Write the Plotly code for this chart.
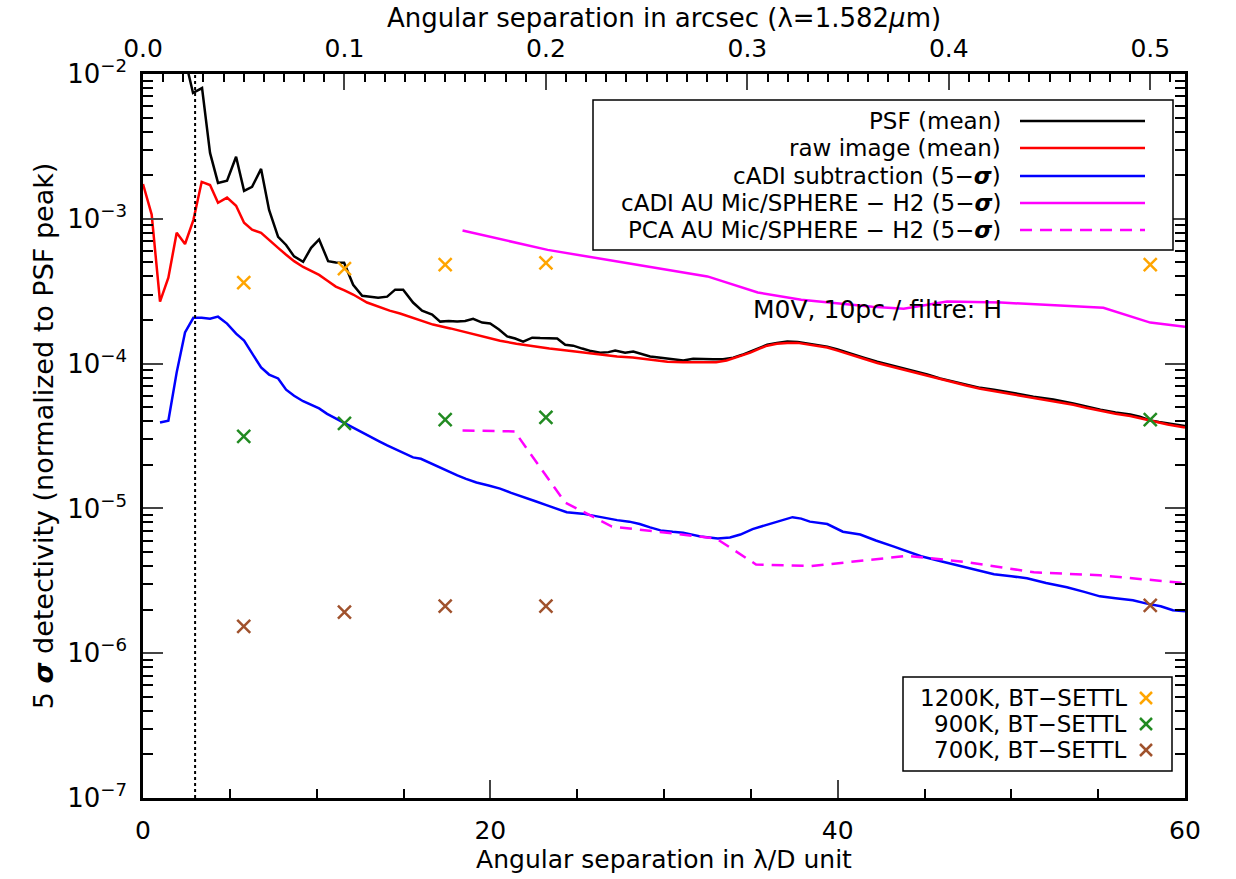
import plotly.graph_objects as go
import numpy as np

# ---------------- data ----------------
ARCSEC_PER_LD = 0.5 / 58.0   # top axis conversion (lambda = 1.582 micron)
IWA_LD = 3.0                 # dotted vertical line position

psf_x = [2.4, 2.88, 3.40, 3.86, 4.32, 4.84, 5.36, 5.82, 6.28, 6.80, 7.26, 7.78, 8.24, 8.70, 9.22, 9.68,
         10.14, 10.66, 11.1, 11.58, 12.10, 12.62, 13.08, 13.54, 14.06, 14.52, 14.98, 15.55, 16.07, 16.65,
         17.11, 17.6, 18.09, 18.55, 19.01, 19.53, 19.99, 20.5, 20.97, 21.43, 21.89, 22.41, 22.87, 23.33,
         23.85, 24.31, 24.77, 25.29, 25.8, 26.33, 26.8, 27.19, 27.76, 28.23, 28.7, 29.2, 29.7, 30.18, 30.6,
         31.11, 31.68, 32.2, 32.83, 33.4, 33.99, 34.5, 34.97, 35.5, 35.94, 36.5, 37.1, 37.7, 38.25, 38.8,
         39.4, 40.0, 40.73, 41.5, 42.28, 43.0, 43.61, 44.4, 45.16, 45.9, 46.66, 47.4, 48.21, 49.0, 49.77,
         50.5, 51.27, 52.42, 53.57, 54.3, 55.13, 56.0, 56.85, 57.4, 58.0, 58.5, 59.0, 60.0]
psf_y = [1.3e-2, 7.4e-3, 8.0e-3, 2.85e-3, 1.77e-3, 1.83e-3, 2.68e-3, 1.56e-3, 1.66e-3, 2.21e-3, 1.15e-3,
         7.5e-4, 6.6e-4, 5.5e-4, 5.05e-4, 6.3e-4, 7.2e-4, 5.1e-4, 5.0e-4, 4.97e-4, 3.5e-4, 2.94e-4, 2.9e-4,
         2.85e-4, 2.9e-4, 3.24e-4, 3.24e-4, 2.64e-4, 2.32e-4, 2.18e-4, 1.95e-4, 1.97e-4, 1.95e-4, 1.97e-4,
         2.04e-4, 1.92e-4, 1.89e-4, 1.72e-4, 1.54e-4, 1.49e-4, 1.42e-4, 1.51e-4, 1.50e-4, 1.49e-4, 1.49e-4,
         1.35e-4, 1.33e-4, 1.27e-4, 1.22e-4, 1.19e-4, 1.20e-4, 1.23e-4, 1.19e-4, 1.21e-4, 1.16e-4, 1.12e-4,
         1.10e-4, 1.08e-4, 1.06e-4, 1.05e-4, 1.08e-4, 1.07e-4, 1.07e-4, 1.07e-4, 1.10e-4, 1.15e-4, 1.21e-4,
         1.29e-4, 1.35e-4, 1.39e-4, 1.42e-4, 1.41e-4, 1.38e-4, 1.35e-4, 1.31e-4, 1.25e-4, 1.17e-4, 1.10e-4,
         1.03e-4, 9.8e-5, 9.4e-5, 8.9e-5, 8.4e-5, 7.9e-5, 7.5e-5, 7.2e-5, 6.8e-5, 6.6e-5, 6.4e-5, 6.15e-5,
         5.9e-5, 5.65e-5, 5.3e-5, 5.05e-5, 4.8e-5, 4.6e-5, 4.45e-5, 4.3e-5, 4.05e-5, 3.95e-5, 3.86e-5, 3.7e-5]

raw_x = [0.0, 0.5, 0.98, 1.46, 1.94, 2.42, 2.9, 3.38, 3.86, 4.32, 4.84, 5.36, 5.82, 6.28, 6.80, 7.26, 7.78,
         8.24, 8.7, 9.22, 9.68, 10.14, 10.6, 11.1, 11.6, 12.1, 12.9, 13.54, 14.2, 14.8, 15.5, 16.0, 16.7,
         17.7, 18.66, 19.6, 20.56, 21.5, 22.47, 23.4, 24.4, 25.4, 26.33, 27.3, 28.2, 29.2, 30.2, 31.1, 32.1,
         33.0, 33.6, 34.3, 34.97, 35.5, 35.94, 36.5, 37.1, 37.7, 38.25, 38.8, 39.4, 40.0, 40.73, 41.5, 42.28,
         43.0, 43.61, 44.4, 45.16, 45.9, 46.66, 47.4, 48.21, 49.0, 49.77, 50.5, 51.27, 52.42, 53.57, 54.3,
         55.13, 56.0, 56.85, 57.4, 58.0, 58.5, 59.0, 60.0]
raw_y = [1.74e-3, 1.07e-3, 2.68e-4, 3.92e-4, 8.0e-4, 6.7e-4, 9.8e-4, 1.8e-3, 1.71e-3, 1.29e-3, 1.40e-3,
         1.23e-3, 9.4e-4, 8.4e-4, 8.0e-4, 7.2e-4, 6.3e-4, 5.65e-4, 5.1e-4, 4.65e-4, 4.35e-4, 4.1e-4, 3.75e-4,
         3.4e-4, 3.2e-4, 3.0e-4, 2.64e-4, 2.47e-4, 2.32e-4, 2.22e-4, 2.08e-4, 2.0e-4, 1.86e-4, 1.75e-4,
         1.64e-4, 1.53e-4, 1.44e-4, 1.37e-4, 1.31e-4, 1.27e-4, 1.23e-4, 1.19e-4, 1.15e-4, 1.12e-4, 1.10e-4,
         1.06e-4, 1.03e-4, 1.02e-4, 1.02e-4, 1.02e-4, 1.05e-4, 1.12e-4, 1.19e-4, 1.27e-4, 1.33e-4, 1.37e-4,
         1.39e-4, 1.39e-4, 1.36e-4, 1.33e-4, 1.29e-4, 1.23e-4, 1.15e-4, 1.08e-4, 1.01e-4, 9.6e-5, 9.2e-5,
         8.7e-5, 8.2e-5, 7.8e-5, 7.4e-5, 7.05e-5, 6.7e-5, 6.45e-5, 6.25e-5, 6.0e-5, 5.8e-5, 5.5e-5, 5.2e-5,
         4.95e-5, 4.7e-5, 4.5e-5, 4.35e-5, 4.2e-5, 4.0e-5, 3.9e-5, 3.8e-5, 3.62e-5]

cadi_x = [0.98, 1.46, 1.94, 2.42, 2.9, 3.38, 3.86, 4.32, 4.84, 5.36, 5.82, 6.28, 6.8, 7.26, 7.78, 8.24, 8.7,
          9.22, 9.68, 10.14, 10.6, 11.1, 11.6, 12.1, 12.6, 13.1, 13.6, 14.06, 14.5, 14.98, 15.55, 16.0, 16.7,
          17.4, 18.1, 18.6, 19.2, 19.9, 20.56, 21.2, 21.9, 22.6, 23.27, 23.8, 24.4, 25.3, 26.3, 27.3, 28.0,
          28.6, 29.2, 29.8, 30.5, 31.1, 32.1, 33.1, 33.8, 34.4, 35.1, 35.6, 36.1, 36.8, 37.4, 37.9, 38.4,
          39.4, 40.3, 41.3, 42.2, 43.2, 44.0, 44.8, 46.0, 47.1, 48.0, 49.0, 50.0, 50.9, 52.0, 53.2, 54.2,
          55.1, 56.0, 57.0, 57.8, 58.6, 59.3, 60.0]
cadi_y = [3.92e-5, 4.04e-5, 8.7e-5, 1.64e-4, 2.07e-4, 2.07e-4, 2.04e-4, 2.11e-4, 1.89e-4, 1.61e-4, 1.44e-4,
          1.19e-4, 9.4e-5, 8.4e-5, 7.9e-5, 6.6e-5, 6.0e-5, 5.5e-5, 5.2e-5, 4.9e-5, 4.5e-5, 4.18e-5, 3.85e-5,
          3.62e-5, 3.35e-5, 3.09e-5, 2.9e-5, 2.72e-5, 2.57e-5, 2.43e-5, 2.25e-5, 2.2e-5, 2.01e-5, 1.84e-5,
          1.69e-5, 1.6e-5, 1.51e-5, 1.44e-5, 1.37e-5, 1.28e-5, 1.19e-5, 1.12e-5, 1.05e-5, 1.0e-5, 9.4e-6,
          9.2e-6, 8.7e-6, 8.3e-6, 8.1e-6, 7.8e-6, 7.4e-6, 7.05e-6, 6.9e-6, 6.8e-6, 6.4e-6, 6.2e-6, 6.3e-6,
          6.6e-6, 7.2e-6, 7.5e-6, 7.9e-6, 8.3e-6, 8.7e-6, 8.5e-6, 8.1e-6, 7.8e-6, 6.9e-6, 6.6e-6, 6.0e-6,
          5.47e-6, 5.05e-6, 4.67e-6, 4.3e-6, 3.98e-6, 3.75e-6, 3.51e-6, 3.4e-6, 3.29e-6, 3.05e-6, 2.85e-6,
          2.65e-6, 2.47e-6, 2.4e-6, 2.32e-6, 2.2e-6, 2.11e-6, 1.98e-6, 1.95e-6]

aumic_cadi_x = [18.4, 23.3, 32.5, 35.4, 37.9, 42.0, 43.8, 46.3, 49.4, 55.3, 58.0, 60.0]
aumic_cadi_y = [8.3e-4, 6.1e-4, 4.0e-4, 3.1e-4, 2.76e-4, 2.47e-4, 2.39e-4, 2.68e-4, 2.64e-4, 2.43e-4, 1.92e-4, 1.80e-4]

aumic_pca_x = [18.4, 21.4, 24.3, 27.0, 33.0, 35.3, 38.5, 44.0, 47.5, 51.3, 55.1, 60.0]
aumic_pca_y = [3.45e-5, 3.4e-5, 1.1e-5, 7.5e-6, 6.2e-6, 4.1e-6, 4.0e-6, 4.7e-6, 4.25e-6, 3.62e-6, 3.45e-6, 3.05e-6]

planet_sep_arcsec = [0.05, 0.10, 0.15, 0.20, 0.50]
contrast_1200K = [3.62e-4, 4.52e-4, 4.82e-4, 4.97e-4, 4.82e-4]
contrast_900K = [3.14e-5, 3.86e-5, 4.11e-5, 4.25e-5, 4.11e-5]
contrast_700K = [1.53e-6, 1.92e-6, 2.11e-6, 2.11e-6, 2.14e-6]

line_labels = ["PSF (mean)", "raw image (mean)", "cADI subtraction (5\u2212<b><i>\u03c3</i></b>)",
               "cADI AU Mic/SPHERE \u2212 H2 (5\u2212<b><i>\u03c3</i></b>)",
               "PCA AU Mic/SPHERE \u2212 H2 (5\u2212<b><i>\u03c3</i></b>)"]
line_colors = ["#000000", "#ff0000", "#0000ff", "#ff00ff", "#ff00ff"]
line_dashes = ["solid", "solid", "solid", "solid", "dash"]
marker_labels = ["1200K, BT\u2212SETTL", "900K, BT\u2212SETTL", "700K, BT\u2212SETTL"]
marker_colors = ["#ffa500", "#228b22", "#a0522d"]

y_tick_vals = [1e-7, 1e-6, 1e-5, 1e-4, 1e-3, 1e-2]
y_tick_text = ["10<sup>\u22127</sup>", "10<sup>\u22126</sup>", "10<sup>\u22125</sup>",
               "10<sup>\u22124</sup>", "10<sup>\u22123</sup>", "10<sup>\u22122</sup>"]
top_tick_vals = [0.0, 0.1, 0.2, 0.3, 0.4, 0.5]
top_tick_text = ["0.0", "0.1", "0.2", "0.3", "0.4", "0.5"]

FONT = "DejaVu Sans"
DASH = "12px,8px"
# ---------------- figure ----------------
fig = go.Figure()
series = [(psf_x, psf_y), (raw_x, raw_y), (cadi_x, cadi_y), (aumic_cadi_x, aumic_cadi_y), (aumic_pca_x, aumic_pca_y)]
for (xs, ys), lab, col, dsh in zip(series, line_labels, line_colors, line_dashes):
    fig.add_trace(go.Scatter(x=xs, y=ys, mode="lines", name=lab,
                             line=dict(color=col, width=2.5, dash=DASH if dsh == "dash" else "solid"),
                             showlegend=False))

for ys, lab, col in zip([contrast_1200K, contrast_900K, contrast_700K], marker_labels, marker_colors):
    fig.add_trace(go.Scatter(x=planet_sep_arcsec, y=ys, mode="markers", name=lab, xaxis="x2",
                             marker=dict(symbol="x-thin", size=13, line=dict(color=col, width=2.5)),
                             showlegend=False))

minor_y = [m * 10.0 ** e for e in range(-7, -2) for m in range(2, 10)]

fig.update_layout(
    width=1236, height=879,
    margin=dict(l=143, r=51, t=74, b=81),
    paper_bgcolor="white", plot_bgcolor="white",
    font=dict(family=FONT, size=24, color="black"),
    xaxis=dict(range=[0, 60], tickvals=[0, 20, 40, 60], ticks="inside", ticklen=18, tickwidth=2,
               showline=True, linewidth=2.5, linecolor="black", showgrid=False, zeroline=False,
               mirror=False, minor=dict(dtick=5, ticks="inside", ticklen=9, tickwidth=2, tickcolor="black"),
               tickfont=dict(size=25), ticklabelstandoff=8,
               title=dict(text="Angular separation in \u03bb/D unit", standoff=0, font=dict(size=25))),
    xaxis2=dict(range=[0, 60 * ARCSEC_PER_LD], overlaying="x", side="top", tickvals=top_tick_vals,
                ticktext=top_tick_text, ticks="inside", ticklen=16, tickwidth=2, showline=True,
                linewidth=2.5, linecolor="black", showgrid=False, zeroline=False,
                minor=dict(dtick=0.01, ticks="inside", ticklen=8, tickwidth=2, tickcolor="black"),
                tickfont=dict(size=25), ticklabelstandoff=4,
                title=dict(text="Angular separation in arcsec (\u03bb=1.582<i>\u03bc</i>m)", standoff=0,
                           font=dict(size=26))),
    yaxis=dict(type="log", range=[-7, -2], tickvals=y_tick_vals, ticktext=y_tick_text, ticks="inside",
               ticklen=20, tickwidth=2, showline=True, linewidth=2.5, linecolor="black", mirror="ticks",
               showgrid=False, zeroline=False,
               minor=dict(tickvals=minor_y, ticks="inside", ticklen=10, tickwidth=2, tickcolor="black"),
               tickfont=dict(size=26), ticklabelstandoff=8,
               title=dict(text="5 <b><i>\u03c3</i></b> detectivity (normalized to PSF peak)", standoff=6,
                          font=dict(size=27))),
)

# dotted vertical line
fig.add_shape(type="line", xref="x", yref="paper", x0=IWA_LD, x1=IWA_LD, y0=0, y1=1,
              line=dict(color="black", width=2, dash="dot"))

# annotation text
fig.add_annotation(x=35.0, y=-3.628, xref="x", yref="y", text="M0V, 10pc / filtre: H", showarrow=False,
                   xanchor="left", yanchor="middle", font=dict(size=25, family=FONT))

# ---------------- custom legends (paper coords) ----------------
def px2x(px):
    return (px - 143) / 1042.0

def py2y(py):
    return (798 - py) / 724.0

# legend 1 box
fig.add_shape(type="rect", xref="paper", yref="paper", x0=px2x(593), x1=px2x(1173), y0=py2y(250), y1=py2y(100),
              line=dict(color="black", width=1.5), fillcolor="white", layer="above")
rows1 = [121, 148, 176, 203, 230]
for py, lab, col, dsh in zip(rows1, line_labels, line_colors, line_dashes):
    fig.add_annotation(x=px2x(1003), y=py2y(py), xref="paper", yref="paper", text=lab, showarrow=False,
                       xanchor="right", yanchor="middle", font=dict(size=23, family=FONT))
    fig.add_shape(type="line", xref="paper", yref="paper", x0=px2x(1020), x1=px2x(1145), y0=py2y(py), y1=py2y(py),
                  line=dict(color=col, width=2.5, dash=DASH if dsh == "dash" else "solid"), layer="above")

# legend 2 box
fig.add_shape(type="rect", xref="paper", yref="paper", x0=px2x(903), x1=px2x(1172), y0=py2y(771), y1=py2y(677),
              line=dict(color="black", width=1.5), fillcolor="white", layer="above")
rows2 = [698, 724, 750]
for py, lab, col in zip(rows2, marker_labels, marker_colors):
    fig.add_annotation(x=px2x(1129), y=py2y(py), xref="paper", yref="paper", text=lab, showarrow=False,
                       xanchor="right", yanchor="middle", font=dict(size=23, family=FONT))
    cx, cy, h = 1146, py, 6
    fig.add_shape(type="line", xref="paper", yref="paper", x0=px2x(cx - h), x1=px2x(cx + h),
                  y0=py2y(cy - h), y1=py2y(cy + h), line=dict(color=col, width=2.5), layer="above")
    fig.add_shape(type="line", xref="paper", yref="paper", x0=px2x(cx - h), x1=px2x(cx + h),
                  y0=py2y(cy + h), y1=py2y(cy - h), line=dict(color=col, width=2.5), layer="above")

fig.write_html("out.html")
